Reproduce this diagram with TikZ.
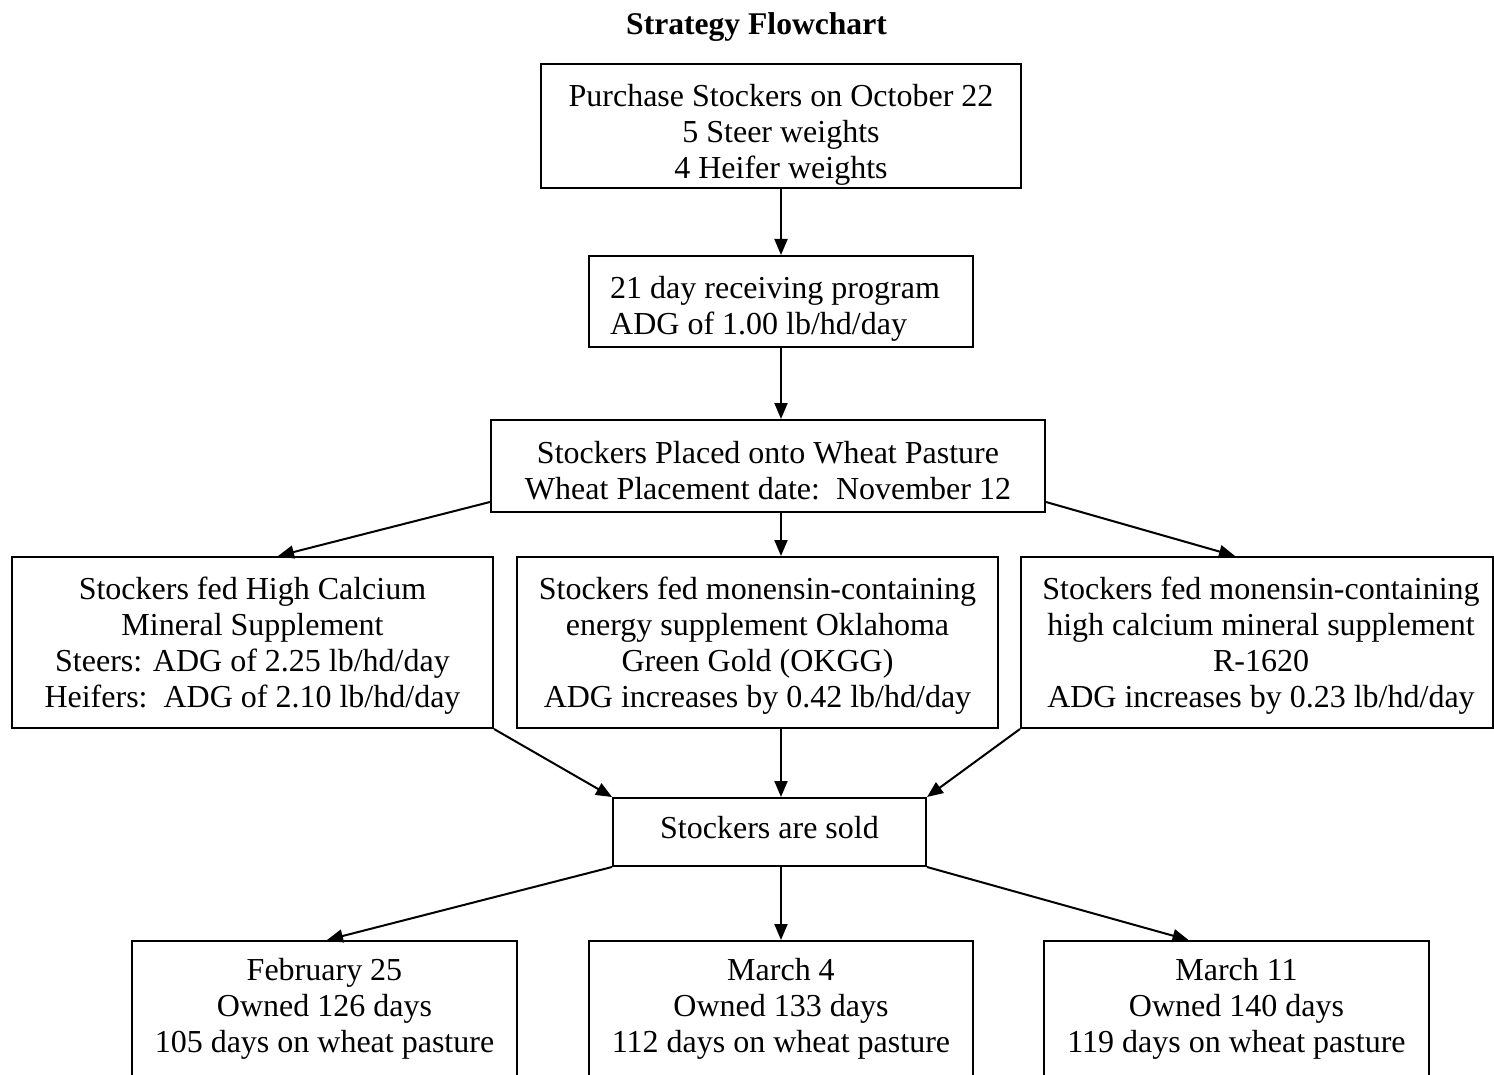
\documentclass[tikz,border=0pt]{standalone}
\usepackage{fontspec}
\setmainfont{Liberation Serif}
\usetikzlibrary{arrows.meta,calc}
\begin{document}
\begin{tikzpicture}[x=1pt,y=-1pt,
  box/.style={draw,line width=2pt,inner sep=0pt,minimum width=#1},
  txt/.style={inner sep=0pt,align=center,font=\fontsize{32}{36}\selectfont},
  arr/.style={line width=2pt,-{Triangle[length=16pt,width=13pt]}}]
\clip (0,0) rectangle (1494,1075);
\fill[white] (0,0) rectangle (1494,1075);
% title
\node[inner sep=0pt,font=\fontsize{31.6}{36}\selectfont\bfseries] (title) at (756.5,27.5) {Strategy Flowchart};
% boxes
\node[box=480pt,minimum height=124pt] (b1) at (781,126) {};
\node[txt] (t1) at (781,135) {Purchase Stockers on October 22\\5 Steer weights\\4 Heifer weights};
\node[box=384pt,minimum height=91pt] (b2) at (781,301.5) {};
\node[txt,align=left,anchor=west] (t2) at (610,308.5) {21 day receiving program\\ADG of 1.00 lb/hd/day};
\node[box=554pt,minimum height=92pt] (b3) at (768,466) {};
\node[txt] (t3) at (768,471) {Stockers Placed onto Wheat Pasture\\Wheat Placement date:\ \ November 12};
\node[box=481pt,minimum height=171pt] (b4) at (252.5,642.5) {};
\node[txt] (t4) at (252.5,645.5) {Stockers fed High Calcium\\Mineral Supplement\\Steers: ADG of 2.25 lb/hd/day\\Heifers:\ \ ADG of 2.10 lb/hd/day};
\node[box=481pt,minimum height=171pt] (b5) at (757.5,642.5) {};
\node[txt] (t5) at (757.5,645.5) {Stockers fed monensin-containing\\energy supplement Oklahoma\\Green Gold (OKGG)\\ADG increases by 0.42 lb/hd/day};
\node[box=472pt,minimum height=171pt] (b6) at (1257,642.5) {};
\node[txt] (t6) at (1261,645.5) {Stockers fed monensin-containing\\high calcium mineral supplement\\R-1620\\ADG increases by 0.23 lb/hd/day};
\node[box=313pt,minimum height=68pt] (b7) at (769.5,832) {};
\node[txt] (t7) at (769.5,827.5) {Stockers are sold};
\node[box=385pt,minimum height=160pt,anchor=north] (b8) at (324.5,940) {};
\node[txt] (t8) at (324.5,1009) {February 25\\Owned 126 days\\105 days on wheat pasture};
\node[box=384pt,minimum height=160pt,anchor=north] (b9) at (781,940) {};
\node[txt] (t9) at (781,1009) {March 4\\Owned 133 days\\112 days on wheat pasture};
\node[box=385pt,minimum height=160pt,anchor=north] (b10) at (1236.5,940) {};
\node[txt] (t10) at (1236.5,1009) {March 11\\Owned 140 days\\119 days on wheat pasture};
% connectors
\draw[arr] (b1.south) -- (b2.north);
\draw[arr] (b2.south) -- (b2.south |- b3.north);
\coordinate (m3) at (b2.south |- b3.south);
\draw[arr] ([yshift=11pt]b3.south west) -- ([xshift=25.5pt]b4.north);
\draw[arr] (m3) -- (m3 |- b5.north);
\draw[arr] ([yshift=11pt]b3.south east) -- ([xshift=-22pt]b6.north);
\coordinate (m5) at (m3 |- b5.south);
\draw[arr] (b4.south east) -- (b7.north west);
\draw[arr] (m5) -- (m5 |- b7.north);
\draw[arr] (b6.south west) -- (b7.north east);
\coordinate (m7) at (m3 |- b7.south);
\draw[arr] (b7.south west) -- ([xshift=2.5pt]b8.north);
\draw[arr] (m7) -- (b9.north);
\draw[arr] (b7.south east) -- ([xshift=-48pt]b10.north);
\end{tikzpicture}
\end{document}
